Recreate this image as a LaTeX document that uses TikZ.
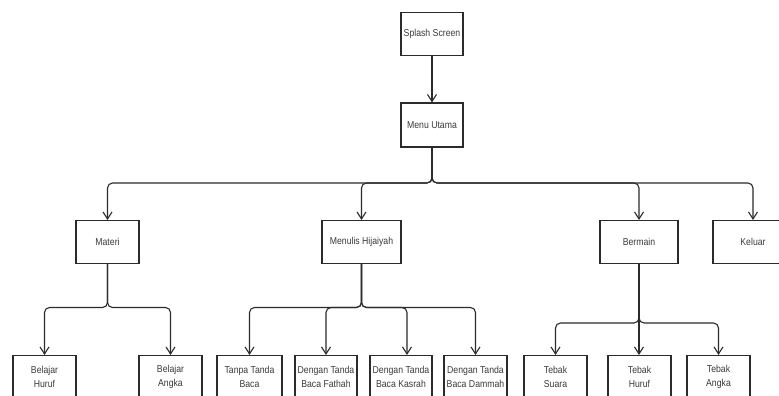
\documentclass[tikz,border=0pt]{standalone}
\usepackage{fontspec}
\setmainfont[FakeStretch=0.87]{Liberation Sans}
\usetikzlibrary{arrows.meta}
\definecolor{ink}{HTML}{2B2B2B}
\definecolor{label}{HTML}{3A3A3A}
\tikzset{
  box/.style={draw=ink, line width=1.1pt, fill=white, text=label, align=center,
    inner sep=0pt, font=\fontsize{10}{14.5}\selectfont},
  top/.style={box, minimum width=62pt, minimum height=43pt},
  edge/.style={draw=ink, line width=1.1pt, rounded corners=5pt,
    -{Straight Barb[length=7pt,width=9pt,line width=1.1pt]}},
}
\begin{document}
\begin{tikzpicture}[x=1pt, y=-1pt]
\useasboundingbox (0,0) rectangle (779,396);
\fill[white] (0,0) rectangle (779,396);
\clip (0,0) rectangle (779,396);

% branch levels
\coordinate (lvA) at (0,183);
\coordinate (lvB) at (0,307.5);
\coordinate (lvC) at (0,323);

% top of the tree
\node[top] (splash) at (432,34) {Splash Screen};
\node[top, minimum height=44pt] (menu) at (432,125) {Menu Utama};

% main menu entries
\node[top, minimum width=63pt] (materi)  at (107.5,242) {Materi};
\node[top, minimum width=79pt] (menulis) at (361.5,242) {Menulis Hijaiyah};
\node[top, minimum width=78pt] (bermain) at (639,242)   {Bermain};
\node[top, minimum width=80pt] (keluar)  at (753,242)   {Keluar};

% sub-menus
\node[top, minimum width=63pt] (huruf)  at (44.5,377)  {Belajar\\Huruf};
\node[top, minimum width=63pt] (angka)  at (170.5,377) {Belajar\\Angka};
\node[top, minimum width=65pt] (tanpa)  at (249.5,377) {Tanpa Tanda\\Baca};
\node[top, minimum width=62pt] (fathah) at (326,377)   {Dengan Tanda\\Baca Fathah};
\node[top, minimum width=62pt] (kasrah) at (401,377)   {Dengan Tanda\\Baca Kasrah};
\node[top, minimum width=63pt] (dammah) at (475.5,377) {Dengan Tanda\\Baca Dammah};
\node[top, minimum width=63pt] (suara)  at (555.5,377) {Tebak\\Suara};
\node[top, minimum width=63pt] (thuruf) at (639.5,377) {Tebak\\Huruf};
\node[top, minimum width=63pt] (tangka) at (718.5,377) {Tebak\\Angka};

% connectors
\draw[edge] (splash.south) -- (menu.north);

\foreach \c in {materi,menulis,bermain,keluar}
  \draw[edge] (menu.south) -- (menu.south |- lvA) -| (\c.north);

\foreach \c in {huruf,angka}
  \draw[edge] (materi.south) -- (materi.south |- lvB) -| (\c.north);

\foreach \c in {tanpa,fathah,dammah}
  \draw[edge] (menulis.south) -- (menulis.south |- lvB) -| (\c.north);
\draw[edge] (menulis.south) -- (menulis.south |- lvB) -| ([xshift=6pt]kasrah.north);

\foreach \c in {suara,tangka}
  \draw[edge] (bermain.south) -- (bermain.south |- lvC) -| (\c.north);
\draw[edge] (bermain.south) -- (bermain.south |- thuruf.north);
\end{tikzpicture}
\end{document}
